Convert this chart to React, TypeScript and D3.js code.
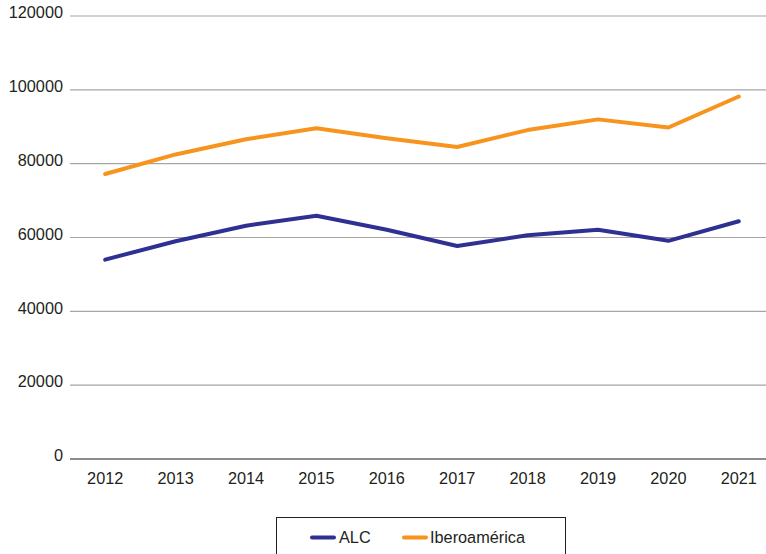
import React from "react";
import * as d3 from "d3";

const years = ["2012", "2013", "2014", "2015", "2016", "2017", "2018", "2019", "2020", "2021"];
const alc = [54000, 59000, 63200, 65900, 62100, 57700, 60600, 62100, 59100, 64400];
const ibero = [77200, 82500, 86600, 89600, 86900, 84500, 89100, 92000, 89800, 98200];
const yTicks = [0, 20000, 40000, 60000, 80000, 100000, 120000];
const seriesNames = ["ALC", "Iberoamérica"];
const seriesColors = ["#2e3192", "#f7941d"];

const W = 766;
const H = 554;
const FONT = "'Liberation Sans', Arial, sans-serif";

export default function App() {
  const x = d3.scaleBand<string>().domain(years).range([70, 774]);
  const y = d3.scaleLinear().domain([0, 120000]).range([459, 16]);
  const line = d3
    .line<number>()
    .x((_, i) => (x(years[i]) as number) + x.bandwidth() / 2)
    .y((d) => y(d));
  const series = [alc, ibero];

  return (
    <svg
      width={W}
      height={H}
      style={{ position: "absolute", left: 0, top: 0, background: "#fff" }}
      fontFamily={FONT}
    >
      {yTicks.map((t) => (
        <g key={t}>
          {t !== 0 && (
            <line x1={70} x2={W} y1={y(t)} y2={y(t)} stroke="#a6a6a6" strokeWidth={1.2} />
          )}
          <text x={63} y={y(t) - 2} textAnchor="end" dominantBaseline="middle" fontSize={16.3} fill="#231f20">
            {t}
          </text>
        </g>
      ))}
      <line x1={70} x2={W} y1={y(0)} y2={y(0)} stroke="#8c8c8c" strokeWidth={1.8} />
      {years.map((yr) => (
        <text
          key={yr}
          x={(x(yr) as number) + x.bandwidth() / 2}
          y={484}
          textAnchor="middle"
          fontSize={16.3}
          fill="#231f20"
        >
          {yr}
        </text>
      ))}
      {series.map((s, i) => (
        <path
          key={i}
          d={line(s) || ""}
          fill="none"
          stroke={seriesColors[i]}
          strokeWidth={4}
          strokeLinejoin="round"
          strokeLinecap="round"
        />
      ))}
      <rect x={276.5} y={517.5} width={289} height={50} fill="#fff" stroke="#231f20" strokeWidth={1} />
      <line x1={312} x2={334} y1={537.5} y2={537.5} stroke={seriesColors[0]} strokeWidth={4} strokeLinecap="round" />
      <text x={339} y={543} fontSize={16.3} fill="#231f20">{seriesNames[0]}</text>
      <line x1={404} x2={426} y1={537.5} y2={537.5} stroke={seriesColors[1]} strokeWidth={4} strokeLinecap="round" />
      <text x={430} y={543} fontSize={16.3} fill="#231f20">{seriesNames[1]}</text>
    </svg>
  );
}
